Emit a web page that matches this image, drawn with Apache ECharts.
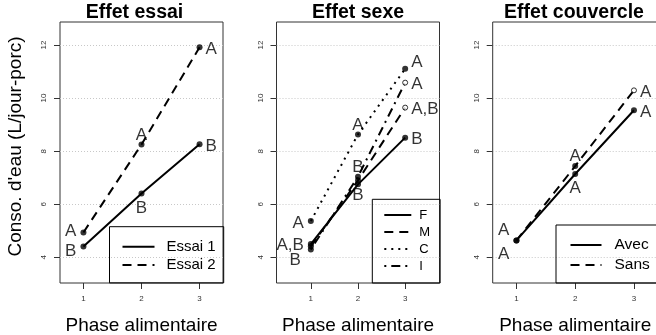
<!DOCTYPE html>
<html>
<head>
<meta charset="utf-8">
<script src="https://cdn.jsdelivr.net/npm/echarts@6/dist/echarts.min.js"></script>
<style>
html, body { margin: 0; padding: 0; background: #fff; }
#chart { width: 656px; height: 335px; }
</style>
</head>
<body>
<div id="chart"></div>
<script>
// x categories (feeding phase) and y tick values
var phases = [1, 2, 3];
var yTicks = [4, 6, 8, 10, 12];

// Effet essai
var essai1 = [4.41, 6.41, 8.26];
var essai2 = [4.94, 8.25, 11.91];
var essai1Letters = ['B', 'B', 'B'];
var essai2Letters = ['A', 'A', 'A'];

// Effet sexe
var sexeF = [4.50, 6.75, 8.51];
var sexeM = [4.42, 6.90, 9.64];
var sexeC = [5.37, 8.63, 11.10];
var sexeI = [4.30, 7.04, 10.58];
var sexeFLetters = ['A,B', '', 'B'];
var sexeMLetters = ['', 'B', 'A,B'];
var sexeCLetters = ['A', 'A', 'A'];
var sexeILetters = ['B', 'B', 'A'];

// Effet couvercle
var avec = [4.64, 7.14, 9.54];
var sans = [4.64, 7.44, 10.29];
var avecLetters = ['A', 'A', 'A'];
var sansLetters = ['A', 'A', 'A'];

var FONT = '"Liberation Sans", Arial, sans-serif';
var Y_MIN = 3.036, Y_MAX = 12.864;
var TOP = 22, HEIGHT = 261;
var DASHED = [9, 6], DOTTED = [2, 5], DOTDASH = [2, 5, 9, 5];

// extra label nudge per position, so the glyphs sit where R puts them
var NUDGE = { left: [0, 2], right: [-1, 2], top: [0, 6], bottom: [0, -1] };

var panels = [
    {
        title: 'Effet essai', titleX: 134.5, left: 60, width: 163, xMin: 0.596, xMax: 3.404, yName: "Conso. d'eau (L/jour-porc)",
        legend: { left: 109.5, top: 226.7, itemWidth: 32, lineHeight: 18.3, padding: [10.8, 8, 8.8, 12], fontSize: 15, textPad: 7 },
        series: [
            { name: 'Essai 1', values: essai1, letters: essai1Letters, dash: 'solid', pos: ['left', 'bottom', 'right'], offsets: [[0, 3], null, null] },
            { name: 'Essai 2', values: essai2, letters: essai2Letters, dash: DASHED, pos: ['left', 'top', 'right'], offsets: [[0, -3], null, null] }
        ]
    },
    {
        title: 'Effet sexe', titleX: 358, left: 276.5, width: 163, xMin: 0.272, xMax: 3.728,
        legend: { left: 372.3, top: 199.3, itemWidth: 27, lineHeight: 17, padding: [7.2, 10, 8.5, 11], fontSize: 13, textPad: 3 },
        series: [
            { name: 'F', values: sexeF, letters: sexeFLetters, dash: 'solid', pos: ['left', 'bottom', 'right'], offsets: [[0, -1], null, null] },
            { name: 'M', values: sexeM, letters: sexeMLetters, dash: DASHED, pos: ['left', 'bottom', 'right'], open: [false, false, true] },
            { name: 'C', values: sexeC, letters: sexeCLetters, dash: DOTTED, pos: ['left', 'top', 'right'], offsets: [null, null, [0, -9]] },
            { name: 'I', values: sexeI, letters: sexeILetters, dash: DOTDASH, pos: ['left', 'top', 'right'], offsets: [[-3, 9], null, null], open: [false, false, true] }
        ]
    },
    {
        title: 'Effet couvercle', titleX: 574, left: 492.7, width: 165, xMin: 0.596, xMax: 3.404,
        legend: { left: 556, top: 225, itemWidth: 31, lineHeight: 20, padding: [10, 14, 8, 13.5], fontSize: 15.5, textPad: 8 },
        series: [
            { name: 'Avec', values: avec, letters: avecLetters, dash: 'solid', pos: ['left', 'bottom', 'right'], offsets: [[0, 12], null, null] },
            { name: 'Sans', values: sans, letters: sansLetters, dash: DASHED, pos: ['left', 'top', 'right'], offsets: [[0, -12], null, null], open: [false, false, true] }
        ]
    }
];

var titles = [], grids = [], xAxes = [], yAxes = [], legends = [], series = [];

panels.forEach(function (p, i) {
    titles.push({
        text: p.title, left: p.titleX, top: 3, textAlign: 'center', padding: 0,
        textStyle: { fontSize: 19.5, fontWeight: 'bold', color: '#000', fontFamily: FONT }
    });
    grids.push({
        left: p.left, top: TOP, width: p.width, height: HEIGHT,
        containLabel: false, outerBoundsMode: 'none',
        show: true, borderColor: '#333', borderWidth: 1, backgroundColor: 'transparent'
    });
    xAxes.push({
        gridIndex: i, type: 'value', min: p.xMin, max: p.xMax,
        axisLine: { show: false },
        axisTick: { show: true, length: 6, customValues: phases, lineStyle: { color: '#333' } },
        axisLabel: { customValues: phases, fontSize: 8, margin: 12, color: '#333', fontFamily: FONT },
        splitLine: { show: false },
        name: 'Phase alimentaire', nameLocation: 'middle', nameGap: 33,
        nameTextStyle: { fontSize: 19, color: '#000', fontFamily: FONT }
    });
    yAxes.push({
        gridIndex: i, type: 'value', min: Y_MIN, max: Y_MAX,
        axisLine: { show: false },
        axisTick: { show: true, length: 6, customValues: yTicks, lineStyle: { color: '#333' } },
        axisLabel: { customValues: yTicks, rotate: 90, fontSize: 8, margin: 12, color: '#333', fontFamily: FONT },
        splitLine: { show: true, customValues: yTicks, lineStyle: { color: '#c8c8c8', type: [1, 2] } },
        name: p.yName || '', nameLocation: 'middle', nameGap: 35,
        nameTextStyle: { fontSize: 19, color: '#000', fontFamily: FONT, padding: [0, 0, 0, 12] }
    });
    var lg = p.legend;
    legends.push({
        data: p.series.map(function (s) { return s.name; }),
        orient: 'vertical', left: lg.left, top: lg.top,
        itemWidth: lg.itemWidth, itemHeight: 8, itemGap: 0,
        padding: lg.padding, borderColor: '#000', borderWidth: 1,
        selectedMode: false,
        itemStyle: { opacity: 0 },
        textStyle: { fontSize: lg.fontSize, lineHeight: lg.lineHeight, color: '#000', fontFamily: FONT, padding: [0, 0, 0, lg.textPad] }
    });
    p.series.forEach(function (s) {
        series.push({
            type: 'line', name: s.name, xAxisIndex: i, yAxisIndex: i,
            data: phases.map(function (x, k) { return [x, s.values[k]]; }),
            symbol: 'none', silent: true,
            lineStyle: { color: '#000', width: 2, type: s.dash }
        });
    });
    p.series.forEach(function (s) {
        series.push({
            type: 'scatter', name: s.name + ' points', xAxisIndex: i, yAxisIndex: i, silent: true, z: 3,
            data: phases.map(function (x, k) {
                var open = s.open && s.open[k];
                var pos = s.pos[k];
                var off = (s.offsets && s.offsets[k]) || [0, 0];
                return {
                    value: [x, s.values[k]],
                    symbol: 'circle',
                    symbolSize: open ? 5 : 6,
                    itemStyle: open ? { color: '#fff', borderColor: '#000', borderWidth: 1 } : { color: '#000' },
                    label: {
                        show: !!s.letters[k], formatter: s.letters[k], position: pos, distance: 4,
                        offset: [off[0] + NUDGE[pos][0], off[1] + NUDGE[pos][1]],
                        fontSize: 17, color: '#000', fontFamily: FONT
                    }
                };
            })
        });
    });
});

var chart = echarts.init(document.getElementById('chart'));
chart.setOption({
    animation: false,
    backgroundColor: '#fff',
    title: titles,
    grid: grids,
    xAxis: xAxes,
    yAxis: yAxes,
    legend: legends,
    series: series
});
</script>
</body>
</html>
